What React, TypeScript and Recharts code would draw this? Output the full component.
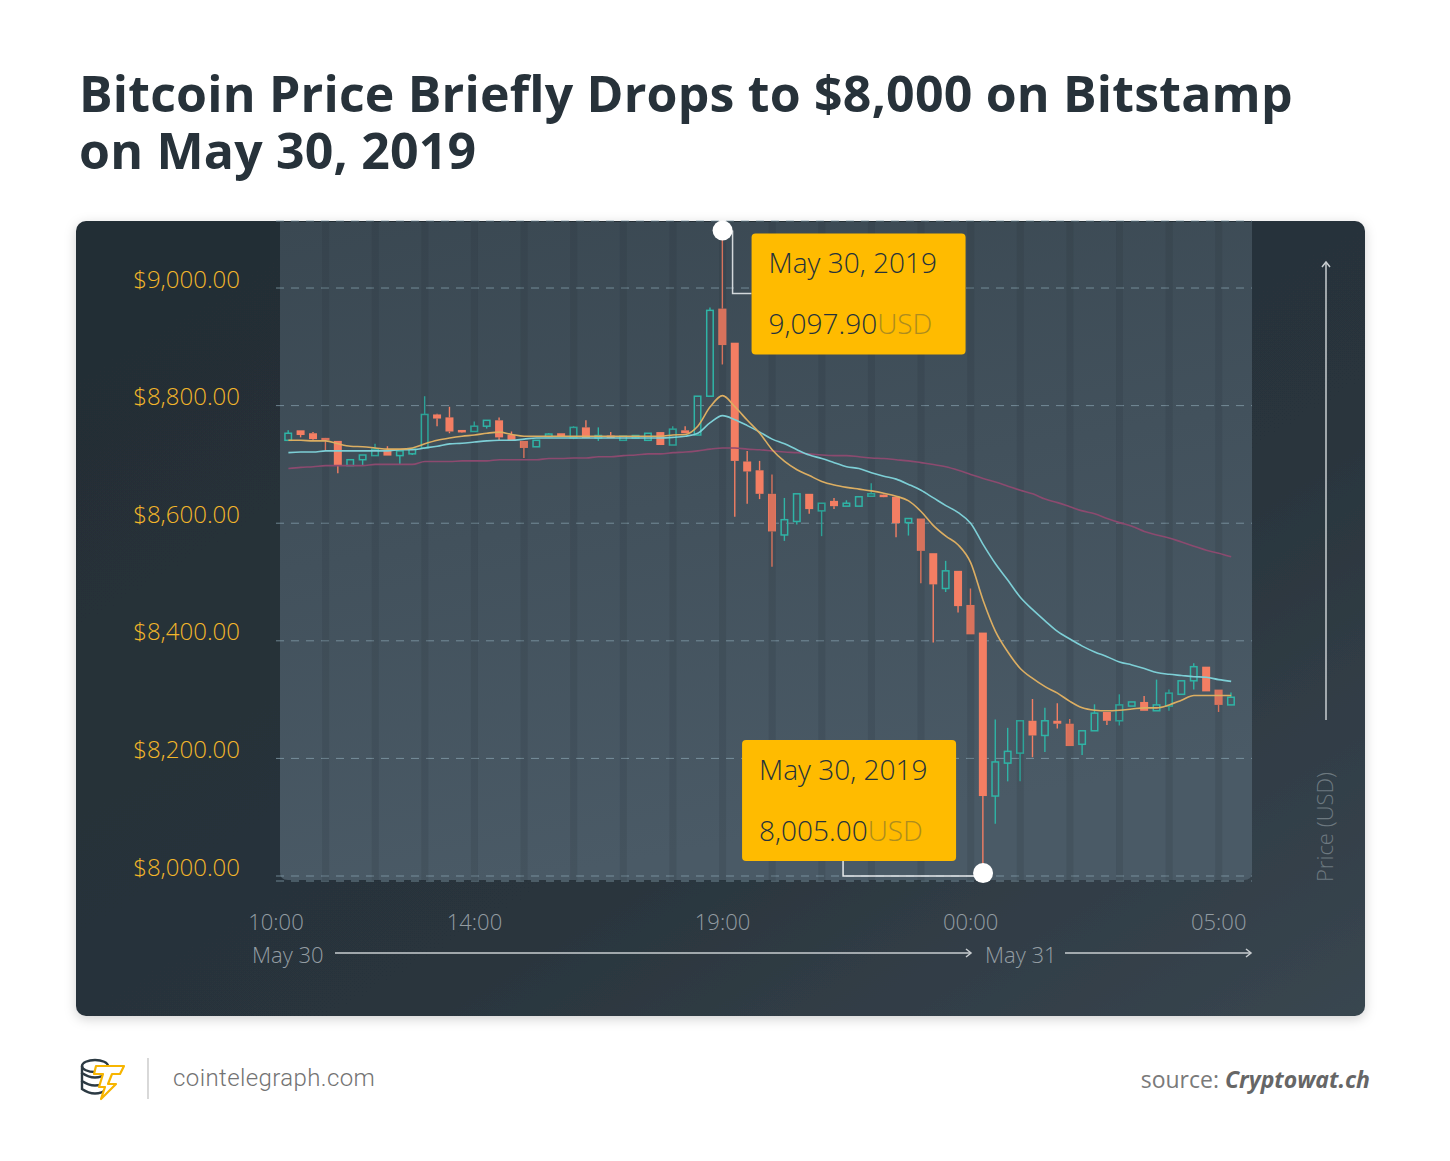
import React from "react";
import {
  ComposedChart,
  Bar,
  Line,
  XAxis,
  YAxis,
  CartesianGrid,
  ReferenceLine,
  ReferenceDot,
} from "recharts";

// 15 minute candles, May 30 10:15 -> May 31 05:15
const times = [
  "10:15", "10:30", "10:45", "11:00", "11:15", "11:30", "11:45", "12:00", "12:15", "12:30",
  "12:45", "13:00", "13:15", "13:30", "13:45", "14:00", "14:15", "14:30", "14:45", "15:00",
  "15:15", "15:30", "15:45", "16:00", "16:15", "16:30", "16:45", "17:00", "17:15", "17:30",
  "17:45", "18:00", "18:15", "18:30", "18:45", "19:00", "19:15", "19:30", "19:45", "20:00",
  "20:15", "20:30", "20:45", "21:00", "21:15", "21:30", "21:45", "22:00", "22:15", "22:30",
  "22:45", "23:00", "23:15", "23:30", "23:45", "00:00", "00:15", "00:30", "00:45", "01:00",
  "01:15", "01:30", "01:45", "02:00", "02:15", "02:30", "02:45", "03:00", "03:15", "03:30",
  "03:45", "04:00", "04:15", "04:30", "04:45", "05:00", "05:15",
];

const opens = [
  8741, 8758, 8753, 8745, 8740, 8698, 8708, 8715, 8725, 8715,
  8718, 8728, 8785, 8780, 8758, 8756, 8765, 8775, 8750, 8740,
  8730, 8748, 8753, 8745, 8763, 8746, 8748, 8741, 8746, 8741,
  8755, 8733, 8758, 8750, 8816, 8965, 8907, 8705, 8690, 8650,
  8580, 8603, 8650, 8621, 8638, 8629, 8629, 8646, 8648, 8645,
  8601, 8608, 8549, 8489, 8519, 8461, 8414, 8136, 8192, 8209,
  8264, 8239, 8264, 8259, 8224, 8247, 8279, 8264, 8289, 8296,
  8281, 8289, 8309, 8332, 8356, 8317, 8291,
];
const closes = [
  8753, 8750, 8743, 8741, 8698, 8708, 8716, 8726, 8715, 8723,
  8726, 8785, 8778, 8756, 8755, 8765, 8775, 8746, 8740, 8728,
  8741, 8751, 8748, 8763, 8745, 8748, 8746, 8748, 8748, 8753,
  8733, 8760, 8753, 8816, 8962, 8903, 8706, 8688, 8650, 8586,
  8606, 8650, 8624, 8634, 8629, 8634, 8645, 8650, 8645, 8600,
  8608, 8553, 8496, 8519, 8459, 8411, 8136, 8194, 8212, 8264,
  8239, 8264, 8259, 8221, 8247, 8277, 8264, 8291, 8296, 8281,
  8291, 8311, 8332, 8356, 8314, 8291, 8304,
];
const highs = [
  8758, 8758, 8755, 8745, 8740, 8708, 8716, 8735, 8731, 8723,
  8728, 8816, 8786, 8798, 8758, 8773, 8775, 8780, 8756, 8740,
  8741, 8753, 8753, 8765, 8775, 8763, 8755, 8748, 8748, 8753,
  8755, 8765, 8765, 8816, 8967, 9097.9, 8907, 8723, 8706, 8683,
  8643, 8650, 8650, 8634, 8643, 8639, 8645, 8668, 8648, 8645,
  8608, 8608, 8549, 8536, 8519, 8489, 8414, 8266, 8252, 8264,
  8301, 8286, 8294, 8267, 8247, 8292, 8279, 8309, 8296, 8306,
  8334, 8317, 8332, 8362, 8356, 8317, 8312,
];
const lows = [
  8741, 8746, 8741, 8723, 8685, 8698, 8698, 8715, 8715, 8700,
  8716, 8726, 8765, 8753, 8755, 8756, 8761, 8741, 8740, 8711,
  8730, 8746, 8748, 8743, 8745, 8740, 8745, 8741, 8746, 8741,
  8733, 8733, 8753, 8750, 8816, 8870, 8611, 8633, 8641, 8526,
  8570, 8598, 8616, 8578, 8624, 8629, 8629, 8646, 8645, 8576,
  8579, 8498, 8397, 8483, 8448, 8411, 8005, 8089, 8161, 8161,
  8202, 8211, 8251, 8221, 8206, 8247, 8257, 8256, 8289, 8281,
  8281, 8281, 8309, 8317, 8314, 8279, 8291,
];

// moving averages as drawn on the chart
const maFast = [
  8741, 8741, 8740, 8740, 8735, 8731, 8730, 8728, 8726, 8726,
  8728, 8735, 8741, 8745, 8748, 8750, 8753, 8755, 8751, 8748,
  8748, 8748, 8748, 8748, 8748, 8748, 8748, 8748, 8748, 8748,
  8748, 8750, 8751, 8765, 8798, 8817, 8798, 8775, 8753, 8725,
  8705, 8691, 8681, 8671, 8665, 8661, 8658, 8655, 8651, 8646,
  8638, 8620, 8596, 8578, 8563, 8533, 8469, 8416, 8381, 8353,
  8336, 8322, 8311, 8297, 8286, 8282, 8281, 8282, 8284, 8286,
  8286, 8291, 8299, 8307, 8307, 8307, 8307,
];
const maMid = [
  8720, 8721, 8721, 8723, 8723, 8723, 8723, 8723, 8723, 8725,
  8725, 8728, 8731, 8735, 8736, 8738, 8740, 8741, 8741, 8743,
  8745, 8745, 8745, 8745, 8745, 8745, 8745, 8745, 8745, 8745,
  8745, 8746, 8748, 8753, 8771, 8783, 8776, 8766, 8755, 8743,
  8735, 8725, 8716, 8710, 8703, 8696, 8693, 8686, 8680, 8675,
  8666, 8656, 8643, 8630, 8618, 8600, 8564, 8531, 8503, 8474,
  8453, 8434, 8416, 8403, 8391, 8381, 8373, 8364, 8359, 8353,
  8346, 8343, 8341, 8339, 8338, 8334, 8331,
];
const maSlow = [
  8693, 8695, 8696, 8698, 8698, 8698, 8698, 8700, 8700, 8700,
  8700, 8705, 8705, 8705, 8706, 8706, 8706, 8708, 8708, 8708,
  8708, 8710, 8710, 8711, 8711, 8713, 8713, 8715, 8716, 8718,
  8718, 8720, 8721, 8723, 8726, 8728, 8728, 8726, 8725, 8723,
  8721, 8720, 8718, 8716, 8715, 8715, 8713, 8711, 8710, 8708,
  8706, 8703, 8700, 8696, 8690, 8683, 8676, 8670, 8663, 8656,
  8650, 8641, 8635, 8628, 8621, 8616, 8608, 8601, 8595, 8586,
  8580, 8575, 8568, 8561, 8554, 8549, 8543,
];

const priceTicks = [8000, 8200, 8400, 8600, 8800, 9000];
const timeTickSlots = [0, 16, 36, 56, 76];
const timeTickLabels = ["10:00", "14:00", "19:00", "00:00", "05:00"];
const title = "Bitcoin Price Briefly Drops to $8,000 on Bitstamp on May 30, 2019";

const peak = { time: "19:00", price: 9097.9, date: "May 30, 2019", value: "9,097.90" };
const trough = { time: "00:15", price: 8005, date: "May 30, 2019", value: "8,005.00" };

const BULL = "#2fb4a6";
const BEAR = "#f47e63";
const GOLD = "#ffbb00";
const FONT = "'Open Sans', 'DejaVu Sans', sans-serif";

const data = times.map((t, i) => ({
  slot: i + 1,
  time: t,
  open: opens[i],
  close: closes[i],
  high: highs[i],
  low: lows[i],
  range: [lows[i], highs[i]],
  fast: maFast[i],
  mid: maMid[i],
  slow: maSlow[i],
}));

const hourSlots = data.filter((d) => d.time.endsWith(":00")).map((d) => d.slot);
const slotOf = (t: string) => times.indexOf(t) + 1;

function Candle(props: any) {
  const { x, y, width, height, payload } = props;
  if (!payload || x == null || y == null) return null;
  const top = Math.min(y, y + height);
  const bottom = Math.max(y, y + height);
  const span = payload.high - payload.low;
  const toY = (v: number) =>
    span > 0 ? bottom - ((v - payload.low) / span) * (bottom - top) : top;
  const cx = x + width / 2;
  const up = payload.close >= payload.open;
  const color = up ? BULL : BEAR;
  let bTop = toY(Math.max(payload.open, payload.close));
  let bBot = toY(Math.min(payload.open, payload.close));
  if (bBot - bTop < 2.5) {
    const m = (bTop + bBot) / 2;
    bTop = m - 1.25;
    bBot = m + 1.25;
  }
  return (
    <g>
      <line x1={cx} x2={cx} y1={top} y2={bTop} stroke={color} strokeWidth={1.4} />
      <line x1={cx} x2={cx} y1={bBot} y2={bottom} stroke={color} strokeWidth={1.4} />
      {up ? (
        <rect
          x={x + 0.75}
          y={bTop}
          width={width - 1.5}
          height={bBot - bTop}
          fill="none"
          stroke={color}
          strokeWidth={1.5}
        />
      ) : (
        <rect x={x} y={bTop} width={width} height={bBot - bTop} fill={color} />
      )}
    </g>
  );
}

function PriceTick(props: any) {
  const { y, payload } = props;
  return (
    <text
      x={164}
      y={y - 10}
      textAnchor="end"
      dominantBaseline="central"
      fill="#f3b62a"
      fontSize={24}
      fontWeight={300}
      fontFamily={FONT}
    >
      ${payload.value.toLocaleString("en-US", { minimumFractionDigits: 2 })}
    </text>
  );
}

function TimeTick(props: any) {
  const { x, payload } = props;
  const label = timeTickLabels[timeTickSlots.indexOf(payload.value)];
  return (
    <text
      x={x}
      y={721}
      textAnchor="middle"
      dominantBaseline="central"
      fill="#939ca2"
      fontSize={22}
      fontWeight={300}
      fontFamily={FONT}
    >
      {label}
    </text>
  );
}

function BoxText({ x, y, date, value }: any) {
  return (
    <g fontFamily={FONT} fontWeight={300} fontSize={28} fill="#25323c">
      <text x={x + 17} y={y + 40}>{date}</text>
      <text x={x + 17} y={y + 101}>
        {value}
        <tspan fill="#ad8c1f">USD</tspan>
      </text>
    </g>
  );
}

function PeakCallout(props: any) {
  const { cx, cy } = props;
  const bx = cx + 29;
  const by = cy + 3;
  return (
    <g>
      <polyline
        points={`${cx + 10},${cy} ${cx + 10},${by + 60} ${bx},${by + 60}`}
        fill="none"
        stroke="#d3d8db"
        strokeWidth={1.5}
      />
      <rect x={bx} y={by} width={214} height={121} rx={4} fill={GOLD} />
      <BoxText x={bx} y={by} date={peak.date} value={peak.value} />
      <circle cx={cx} cy={cy} r={10} fill="#ffffff" />
    </g>
  );
}

function TroughCallout(props: any) {
  const { cx, cy } = props;
  const bx = cx - 241;
  const by = cy - 133;
  return (
    <g>
      <polyline
        points={`${cx},${cy + 3} ${cx - 140},${cy + 3} ${cx - 140},${by + 121}`}
        fill="none"
        stroke="#e6e9eb"
        strokeWidth={1.5}
      />
      <rect x={bx} y={by} width={214} height={121} rx={4} fill={GOLD} />
      <BoxText x={bx} y={by} date={trough.date} value={trough.value} />
      <circle cx={cx} cy={cy} r={10} fill="#ffffff" />
    </g>
  );
}

function Backdrop() {
  return (
    <svg
      width={1450}
      height={1161}
      style={{ position: "absolute", left: 0, top: 0 }}
    >
      <defs>
        <linearGradient id="card" x1="0" y1="0" x2="1" y2="1">
          <stop offset="0%" stopColor="#232d34" />
          <stop offset="60%" stopColor="#29343c" />
          <stop offset="100%" stopColor="#394650" />
        </linearGradient>
        <linearGradient id="panel" x1="0" y1="0" x2="0.25" y2="1">
          <stop offset="0%" stopColor="#3a4852" />
          <stop offset="100%" stopColor="#4a5a66" />
        </linearGradient>
        <filter id="shadow" x="-5%" y="-5%" width="110%" height="115%">
          <feDropShadow dx="0" dy="3" stdDeviation="6" floodColor="#000" floodOpacity="0.18" />
        </filter>
      </defs>

      <rect x={76} y={221} width={1289} height={795} rx={10} fill="url(#card)" filter="url(#shadow)" />
      <path
        d="M280,222 H1252 V872 Q1252,880 1244,880 H288 Q280,880 280,872 Z"
        fill="url(#panel)"
      />

      <g fontFamily={FONT} fontWeight={300} fontSize={22} fill="#949da3">
        <text x={252} y={963}>May 30</text>
        <text x={985} y={963}>May 31</text>
      </g>
      <g stroke="#c9ced1" strokeWidth={1.5} fill="none">
        <line x1={335} y1={953} x2={971} y2={953} />
        <polyline points="966,949 971,953 966,957" />
        <line x1={1065} y1={953} x2={1251} y2={953} />
        <polyline points="1246,949 1251,953 1246,957" />
        <line x1={1326} y1={720} x2={1326} y2={262} />
        <polyline points="1322,267 1326,262 1330,267" />
      </g>
      <text
        x={1333}
        y={827}
        transform="rotate(-90 1333 827)"
        textAnchor="middle"
        fontFamily={FONT}
        fontWeight={300}
        fontSize={22}
        fill="#6d7980"
      >
        Price (USD)
      </text>

      <g transform="translate(80,1058)">
        <g fill="none" stroke="#2c3a43" strokeWidth={2.4}>
          <ellipse cx={15} cy={8} rx={13} ry={6} />
          <path d="M2,8 V15 Q15,24 28,15" />
          <path d="M2,15 V23 Q15,32 28,23" />
          <path d="M2,23 V31 Q15,40 28,31" />
        </g>
        <polygon
          points="16,8 44,8 40,16 32,16 28,26 36,26 21,41 25,29 19,29 23,16 14,16"
          fill="#ffffff"
          stroke="#f7b500"
          strokeWidth={2.2}
          strokeLinejoin="round"
        />
      </g>
      <line x1={148} y1={1058} x2={148} y2={1099} stroke="#c4c4c4" strokeWidth={1.3} />
      <text
        x={173}
        y={1086}
        fontFamily="Roboto, 'Open Sans', sans-serif"
        fontWeight={300}
        fontSize={24}
        letterSpacing={0.4}
        fill="#737373"
      >
        cointelegraph.com
      </text>
      <text x={1370} y={1088} textAnchor="end" fontFamily={FONT} fontSize={23} fill="#7a7a7a">
        source:{" "}
        <tspan fontWeight={700} fontStyle="italic" fill="#666666">
          Cryptowat.ch
        </tspan>
      </text>
    </svg>
  );
}

export default function App() {
  return (
    <div
      style={{
        position: "absolute",
        left: 0,
        top: 0,
        width: 1450,
        height: 1161,
        background: "#ffffff",
        overflow: "hidden",
      }}
    >
      <Backdrop />
      <div
        style={{
          position: "absolute",
          left: 79,
          top: 65,
          width: 1240,
          lineHeight: "57px",
          fontFamily: FONT,
          fontWeight: 700,
          fontSize: 50,
          letterSpacing: 0.2,
          color: "#27323a",
        }}
      >
        {title}
      </div>
      <div style={{ position: "absolute", left: 76, top: 200 }}>
        <ComposedChart
          width={1289}
          height={816}
          data={data}
          margin={{ top: 21, right: 113, bottom: 0, left: 0 }}
          style={{ overflow: "visible" }}
        >
          <CartesianGrid
            horizontal
            vertical={false}
            stroke="#86a0ad"
            strokeOpacity={0.75}
            strokeDasharray="8 7"
          />
          {hourSlots.map((s) => (
            <ReferenceLine
              key={s}
              x={s}
              stroke="#1e2a32"
              strokeOpacity={0.13}
              strokeWidth={7}
            />
          ))}
          <XAxis
            type="number"
            dataKey="slot"
            domain={[0, 78.68]}
            ticks={timeTickSlots}
            interval={0}
            height={135}
            axisLine={false}
            tickLine={false}
            tick={(p: any) => <TimeTick {...p} />}
          />
          <YAxis
            type="number"
            domain={[7991.5, 9114]}
            allowDataOverflow
            ticks={priceTicks}
            interval={0}
            width={200}
            axisLine={false}
            tickLine={false}
            tick={(p: any) => <PriceTick {...p} />}
          />
          <Bar
            dataKey="range"
            barSize={8}
            isAnimationActive={false}
            shape={(p: any) => <Candle {...p} />}
          />
          <Line
            type="monotone"
            dataKey="slow"
            stroke="#8c4a6f"
            strokeWidth={1.6}
            dot={false}
            isAnimationActive={false}
          />
          <Line
            type="monotone"
            dataKey="mid"
            stroke="#7dcfd6"
            strokeWidth={1.6}
            dot={false}
            isAnimationActive={false}
          />
          <Line
            type="monotone"
            dataKey="fast"
            stroke="#dcae62"
            strokeWidth={1.6}
            dot={false}
            isAnimationActive={false}
          />
          <ReferenceDot
            x={slotOf(peak.time)}
            y={peak.price}
            r={10}
            shape={(p: any) => <PeakCallout {...p} />}
          />
          <ReferenceDot
            x={slotOf(trough.time)}
            y={trough.price}
            r={10}
            shape={(p: any) => <TroughCallout {...p} />}
          />
        </ComposedChart>
      </div>
    </div>
  );
}
